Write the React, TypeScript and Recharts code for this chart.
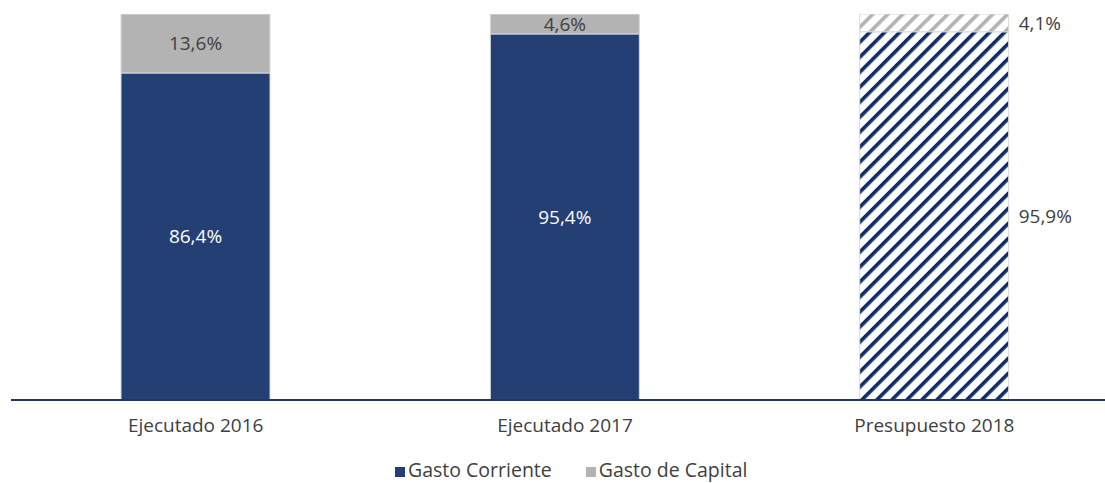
import { BarChart, Bar, XAxis, YAxis, LabelList, Cell } from 'recharts'

const categories = ['Ejecutado 2016', 'Ejecutado 2017', 'Presupuesto 2018']
const gastoCorriente = [86.4, 95.4, 95.9]
const gastoCapital = [13.6, 4.6, 4.1]
const hatched = [false, false, true]
const legendItems = ['Gasto Corriente', 'Gasto de Capital']

const NAVY = '#243f74'
const GRAY = '#b3b3b3'
const TEXT = '#404040'
const FONT = '"Open Sans", sans-serif'
const PLOT_BOTTOM = 400

const data = categories.map((name, i) => ({
    name,
    corriente: gastoCorriente[i],
    capital: gastoCapital[i],
}))

const fmt = (v: number) => v.toFixed(1).replace('.', ',') + '%'

const makeLabel = (light: boolean) => (props: any) => {
    const { x, y, width, height, value, index } = props
    const top = Number(y)
    const bottom = Math.min(top + Number(height), PLOT_BOTTOM)
    const cy = (top + bottom) / 2
    if (hatched[index]) {
        return (
            <text x={Number(x) + Number(width) + 10} y={cy} dominantBaseline='central'
                fill={TEXT} fontSize={19} fontFamily={FONT}>{fmt(Number(value))}</text>
        )
    }
    return (
        <text x={Number(x) + Number(width) / 2} y={cy} textAnchor='middle' dominantBaseline='central'
            fill={light ? '#ffffff' : TEXT} fontSize={19} fontFamily={FONT}>{fmt(Number(value))}</text>
    )
}

const App = () => {
    return (
        <div style={{ position: 'absolute', left: 0, top: 0, width: 1105, height: 483, overflow: 'hidden', background: '#fff' }}>
            <BarChart width={1120} height={483} data={data} margin={{ top: 14, right: 1, left: 11, bottom: 43 }}>
                <defs>
                    <pattern id='hatchNavy' patternUnits='userSpaceOnUse' width={10.6} height={10.6} patternTransform='rotate(45)'>
                        <rect width={10.6} height={10.6} fill='#ffffff' />
                        <rect x={0} width={3.6} height={10.6} fill='#102c68' />
                    </pattern>
                    <pattern id='hatchGray' patternUnits='userSpaceOnUse' width={10.6} height={10.6} patternTransform='rotate(45)'>
                        <rect width={10.6} height={10.6} fill='#ffffff' />
                        <rect x={0} width={3.6} height={10.6} fill={GRAY} />
                    </pattern>
                </defs>
                <YAxis hide type='number' domain={[11, 100]} allowDataOverflow />
                <XAxis dataKey='name' tickLine={false} tickMargin={13} height={40}
                    axisLine={{ stroke: '#1f3566', strokeWidth: 2 }}
                    tick={{ fill: TEXT, fontSize: 19, fontFamily: FONT }} />
                <Bar dataKey='corriente' stackId='a' barSize={149} stroke='#d9d9d9' strokeWidth={1} isAnimationActive={false}>
                    {data.map((_, i) => <Cell key={i} fill={hatched[i] ? 'url(#hatchNavy)' : NAVY} />)}
                    <LabelList dataKey='corriente' content={makeLabel(true)} />
                </Bar>
                <Bar dataKey='capital' stackId='a' barSize={149} stroke='#d9d9d9' strokeWidth={1} isAnimationActive={false}>
                    {data.map((_, i) => <Cell key={i} fill={hatched[i] ? 'url(#hatchGray)' : GRAY} />)}
                    <LabelList dataKey='capital' content={makeLabel(false)} />
                </Bar>
            </BarChart>
            <div style={{ position: 'absolute', left: 395, top: 459, display: 'flex', gap: 34, fontFamily: FONT, fontSize: 19.5, lineHeight: '22px', color: TEXT, whiteSpace: 'nowrap' }}>
                {legendItems.map((label, i) => (
                    <div key={label}>
                        <span style={{ display: 'inline-block', width: 10, height: 10, marginRight: 3, background: i === 0 ? NAVY : GRAY }} />
                        {label}
                    </div>
                ))}
            </div>
        </div>
    )
}

export default App
